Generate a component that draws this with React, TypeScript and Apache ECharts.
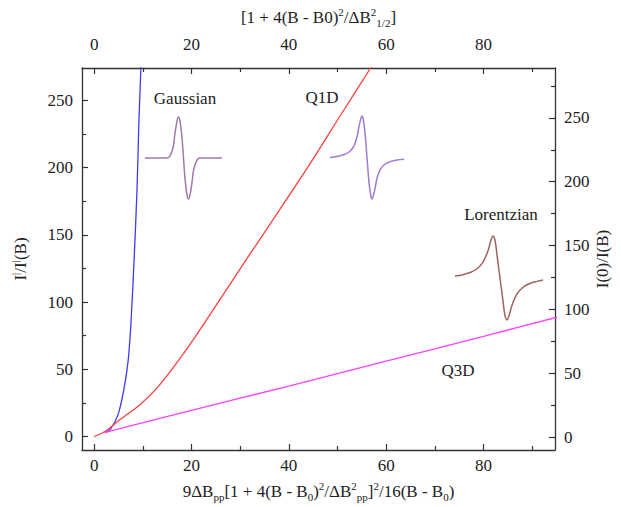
import React, { useEffect, useRef } from "react";
import * as echarts from "echarts";

// ---- data ----
const xMajorTicks = [0, 20, 40, 60, 80];
const xMinorTicks = [10, 30, 50, 70, 90];
const yMajorTicks = [0, 50, 100, 150, 200, 250];
const yMinorTicks = [25, 75, 125, 175, 225, 275];

const gaussianCurve = [
  [2.2, 3], [3.3, 5.2], [4.9, 16.3], [6.1, 34.9], [7.0, 57], [7.6, 86.8],
  [8.2, 131], [8.8, 183], [9.2, 235], [9.6, 274], [9.8, 300],
];
const q1dCurve = [
  [0, 0], [2.2, 3.7], [5.3, 12.6], [9.4, 23.7], [13.5, 38.6], [19.6, 68],
  [25.8, 101.6], [31.9, 135], [38, 168], [44.2, 202], [50.3, 237], [56.8, 274], [58.5, 284],
];
const q3dCurve = [
  [2.2, 3], [3.3, 4], [20, 19.5], [40, 37.5], [60, 56], [80, 74.5], [96, 89.5],
];

// little line-shape icons: [horizontal offset in px, relative amplitude]
const gaussianIcon = [
  [0, 0], [22, 0], [25, 0.05], [28, 0.25], [30, 0.6], [32, 0.9], [33.5, 1], [35, 0.9],
  [37, 0.5], [38.5, 0], [40, -0.5], [42, -0.9], [43.5, -1], [45, -0.9], [47, -0.6],
  [49, -0.25], [52, -0.05], [55, 0], [77, 0],
];
const q1dIcon = [
  [2, 0], [10, 0.03], [17, 0.08], [22, 0.15], [26, 0.28], [29, 0.5], [31, 0.75], [33, 0.95],
  [34, 1], [35, 0.95], [37, 0.6], [39, 0], [41, -0.6], [43, -0.95], [44, -1], [45, -0.95],
  [47, -0.75], [49, -0.5], [52, -0.3], [56, -0.18], [62, -0.1], [69, -0.06], [76, -0.04],
];
const lorentzIcon = [
  [0, 0.05], [8, 0.08], [15, 0.13], [22, 0.22], [28, 0.38], [33, 0.65], [36, 0.9], [38, 1],
  [40, 0.9], [42, 0.55], [45, 0], [48, -0.55], [50, -0.9], [52, -1], [54, -0.9], [57, -0.65],
  [62, -0.38], [68, -0.22], [75, -0.13], [82, -0.08], [88, -0.05],
];

const curveLabels = [
  { text: "Gaussian", x: 185, y: 98 },
  { text: "Q1D", x: 322, y: 97 },
  { text: "Lorentzian", x: 501, y: 214 },
  { text: "Q3D", x: 458, y: 370 },
];

const FONT = "'Liberation Serif', 'Times New Roman', serif";
const TXT = "#222";
const LINE = "#333";

export default function App() {
  const ref = useRef<HTMLDivElement>(null);
  useEffect(() => {
    if (!ref.current) return;
    const chart = echarts.init(ref.current, null, { renderer: "svg" });
    const rich = {
      sup: { fontSize: 11, fontFamily: FONT, color: TXT, verticalAlign: "top", lineHeight: 22 },
      sub: { fontSize: 11, fontFamily: FONT, color: TXT, verticalAlign: "bottom", lineHeight: 22 },
    };
    const nameStyle = { fontFamily: FONT, fontSize: 17, color: TXT, lineHeight: 22, rich };
    const labelStyle = { fontFamily: FONT, fontSize: 17, color: TXT };

    const xMin = -2.5, xMax = 94.7;
    const yLMin = -10, yLMax = 274;
    const yRMin = -10, yRMax = 289;

    const mkX = (pos: string, major: boolean, extra: any = {}) => ({
      type: "value", gridIndex: 0, position: pos, min: xMin, max: xMax,
      axisLine: { show: major, onZero: false, lineStyle: { color: LINE, width: 1.3 } },
      axisTick: { show: true, inside: true, length: major ? 6 : 4, customValues: major ? xMajorTicks : xMinorTicks, lineStyle: { color: LINE, width: 1.2 } },
      axisLabel: { show: major, customValues: xMajorTicks, margin: pos === "top" ? 15 : 7, ...labelStyle },
      splitLine: { show: false },
      ...extra,
    });
    const mkY = (pos: string, major: boolean, min: number, max: number, extra: any = {}) => ({
      type: "value", gridIndex: 0, position: pos, min, max,
      axisLine: { show: major, onZero: false, lineStyle: { color: LINE, width: 1.3 } },
      axisTick: { show: true, inside: true, length: major ? 6 : 4, customValues: major ? yMajorTicks : yMinorTicks, lineStyle: { color: LINE, width: 1.2 } },
      axisLabel: { show: major, customValues: yMajorTicks, margin: 9, ...labelStyle },
      splitLine: { show: false },
      ...extra,
    });

    const iconGrids = [
      { left: 145, top: 115, width: 77, height: 86, data: gaussianIcon, color: "#a07aa8" },
      { left: 328, top: 114, width: 76, height: 87, data: q1dIcon, color: "#a07ad0" },
      { left: 455, top: 234, width: 88, height: 88, data: lorentzIcon, color: "#a0625e" },
    ];

    chart.setOption({
      animation: false,
      backgroundColor: "#fff",
      grid: [
        { left: 82, right: 66, top: 68, bottom: 57, outerBoundsMode: "none", containLabel: false },
        ...iconGrids.map((g) => ({ left: g.left, top: g.top, width: g.width, height: g.height, outerBoundsMode: "none", containLabel: false })),
      ],
      xAxis: [
        mkX("bottom", true, {
          name: "9ΔB{sub|pp}[1 + 4(B - B{sub|0}){sup|2}/ΔB{sup|2}{sub|pp}]{sup|2}/16(B - B{sub|0})",
          nameLocation: "middle", nameGap: 30, nameTextStyle: nameStyle,
        }),
        mkX("bottom", false),
        mkX("top", true, {
          name: "[1 + 4(B - B0){sup|2}/ΔB{sup|2}{sub|1/2}]",
          nameLocation: "middle", nameGap: 40, nameTextStyle: nameStyle,
        }),
        mkX("top", false),
        ...iconGrids.map((g, i) => ({ type: "value", gridIndex: i + 1, min: 0, max: g.width, show: false })),
      ],
      yAxis: [
        mkY("left", true, yLMin, yLMax, {
          name: "I{sup||}/I{sup||}(B)", nameLocation: "middle", nameRotate: 90, nameGap: 51, nameMoveOverlap: false, nameTextStyle: nameStyle,
        }),
        mkY("left", false, yLMin, yLMax),
        mkY("right", true, yRMin, yRMax, {
          name: "I(0)/I(B)", nameLocation: "middle", nameRotate: 90, nameGap: 36, nameMoveOverlap: false, nameTextStyle: nameStyle,
        }),
        mkY("right", false, yRMin, yRMax),
        ...iconGrids.map((g, i) => ({ type: "value", gridIndex: i + 1, min: -1.05, max: 1.05, show: false })),
      ],
      series: [
        { name: "Gaussian", type: "line", xAxisIndex: 0, yAxisIndex: 0, data: gaussianCurve, showSymbol: false, smooth: 0.3, lineStyle: { color: "#3c3cf0", width: 1.3 }, clip: true },
        { name: "Q1D", type: "line", xAxisIndex: 0, yAxisIndex: 0, data: q1dCurve, showSymbol: false, smooth: 0.3, lineStyle: { color: "#ff4040", width: 1.3 }, clip: true },
        { name: "Q3D", type: "line", xAxisIndex: 0, yAxisIndex: 0, data: q3dCurve, showSymbol: false, smooth: 0.2, lineStyle: { color: "#ff40ff", width: 1.3 }, clip: true },
        ...iconGrids.map((g, i) => ({
          type: "line", xAxisIndex: 4 + i, yAxisIndex: 4 + i, data: g.data, showSymbol: false, smooth: 0.4,
          lineStyle: { color: g.color, width: 1.5 },
        })),
      ],
      graphic: curveLabels.map((l) => ({
        type: "text", x: l.x, y: l.y,
        style: { text: l.text, font: `17px ${FONT}`, fill: TXT, textAlign: "center", textVerticalAlign: "middle" },
      })),
    });
    return () => chart.dispose();
  }, []);
  return <div ref={ref} style={{ position: "absolute", left: 0, top: 0, width: 621, height: 507 }} />;
}
